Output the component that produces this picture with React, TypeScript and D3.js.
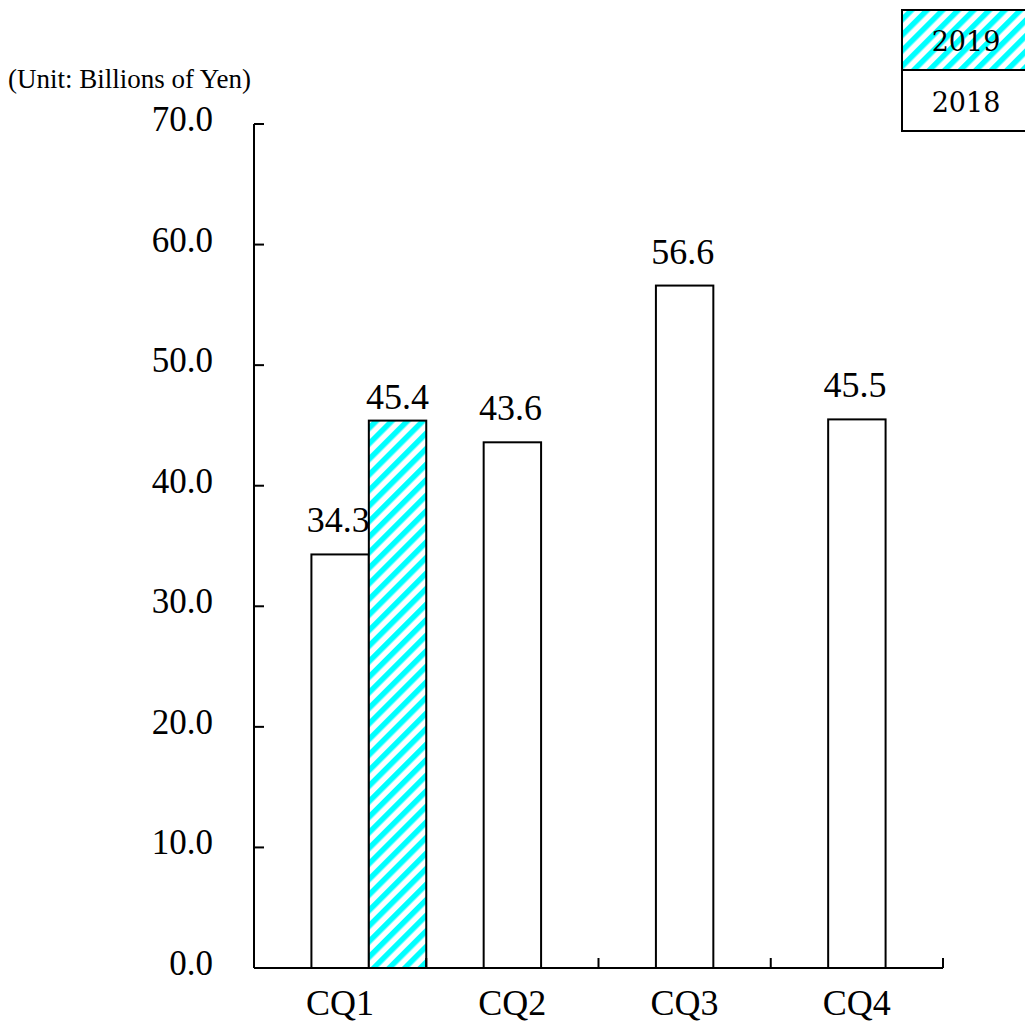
import React from "react";
import * as d3 from "d3";

const categories = ["CQ1", "CQ2", "CQ3", "CQ4"];
const values2018 = [34.3, 43.6, 56.6, 45.5];
const values2019: (number | null)[] = [45.4, null, null, null];
const yTicks = [0, 10, 20, 30, 40, 50, 60, 70];
const legendLabels = ["2019", "2018"];
const unitLabel = "(Unit: Billions of Yen)";

const W = 1025;
const H = 1033;
const SERIF = "'Liberation Serif', 'Times New Roman', serif";
const LEGEND_FONT = "'DejaVu Serif', serif";

export default function App() {
  const x = d3.scaleBand<string>().domain(categories).range([254, 943]).padding(0);
  const y = d3.scaleLinear().domain([0, 70]).range([968, 124]);
  const bw = x.bandwidth() / 3;
  const fmt = d3.format(".1f");

  return (
    <svg
      width={W}
      height={H}
      style={{ position: "absolute", left: 0, top: 0, background: "#fff" }}
    >
      <defs>
        <pattern
          id="hatch2019"
          patternUnits="userSpaceOnUse"
          width={11}
          height={11}
          patternTransform="rotate(45)"
        >
          <rect x={0} y={0} width={11} height={11} fill="#fff" />
          <rect x={0} y={0} width={5.5} height={11} fill="#00ffff" />
        </pattern>
      </defs>

      {/* unit caption */}
      <text x={8} y={88} fontFamily={SERIF} fontSize={27} fill="#000">
        {unitLabel}
      </text>

      {/* y axis */}
      <line x1={254} x2={254} y1={y(70)} y2={y(0)} stroke="#000" strokeWidth={2} />
      {yTicks.map((t) => (
        <g key={t}>
          <line x1={254} x2={264} y1={y(t)} y2={y(t)} stroke="#000" strokeWidth={2} />
          <text
            x={213}
            y={y(t) + 7}
            textAnchor="end"
            fontFamily={SERIF}
            fontSize={35}
            fill="#000"
          >
            {fmt(t)}
          </text>
        </g>
      ))}

      {/* bars */}
      {categories.map((c, i) => {
        const cx = (x(c) as number) + x.bandwidth() / 2;
        const v18 = values2018[i];
        const v19 = values2019[i];
        return (
          <g key={c}>
            <rect
              x={cx - bw / 2}
              y={y(v18)}
              width={bw}
              height={y(0) - y(v18)}
              fill="#fff"
              stroke="#000"
              strokeWidth={2}
            />
            <text
              x={cx - 2}
              y={y(v18) - 22}
              textAnchor="middle"
              fontFamily={SERIF}
              fontSize={36}
              fill="#000"
            >
              {fmt(v18)}
            </text>
            {v19 != null && (
              <>
                <rect
                  x={cx + bw / 2}
                  y={y(v19)}
                  width={bw}
                  height={y(0) - y(v19)}
                  fill="url(#hatch2019)"
                  stroke="#000"
                  strokeWidth={2}
                />
                <text
                  x={cx + bw}
                  y={y(v19) - 12}
                  textAnchor="middle"
                  fontFamily={SERIF}
                  fontSize={36}
                  fill="#000"
                >
                  {fmt(v19)}
                </text>
              </>
            )}
          </g>
        );
      })}

      {/* x axis */}
      <line x1={254} x2={943} y1={y(0)} y2={y(0)} stroke="#000" strokeWidth={2} />
      {categories.map((c) => {
        const bx = (x(c) as number) + x.bandwidth();
        return (
          <line key={c} x1={bx} x2={bx} y1={y(0)} y2={y(0) - 10} stroke="#000" strokeWidth={2} />
        );
      })}
      {categories.map((c) => (
        <text
          key={c}
          x={(x(c) as number) + x.bandwidth() / 2}
          y={1015}
          textAnchor="middle"
          fontFamily={SERIF}
          fontSize={36}
          fill="#000"
        >
          {c}
        </text>
      ))}

      {/* legend */}
      <g>
        <rect x={902} y={10} width={130} height={60} fill="url(#hatch2019)" stroke="#000" strokeWidth={2} />
        <rect x={902} y={70} width={130} height={61} fill="#fff" stroke="#000" strokeWidth={2} />
        {legendLabels.map((l, i) => (
          <text
            key={l}
            x={966}
            y={51 + i * 61}
            textAnchor="middle"
            fontFamily={LEGEND_FONT}
            fontSize={27}
            fill="#000"
          >
            {l}
          </text>
        ))}
      </g>
    </svg>
  );
}
